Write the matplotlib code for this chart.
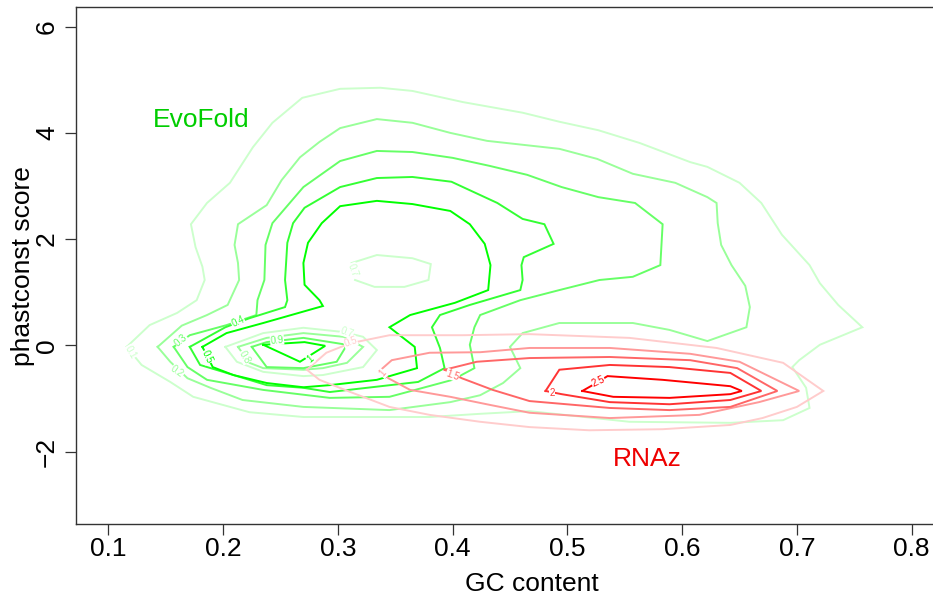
import matplotlib

matplotlib.use("Agg")

import matplotlib.pyplot as plt
from matplotlib import font_manager as fm
import numpy as np


# contour lines, in data units (GC content, phastcons score)
evo_01 = [(0.116, -0.03), (0.136, 0.38), (0.160, 0.61), (0.177, 0.85), (0.184, 1.23),
          (0.182, 1.48), (0.176, 1.85), (0.172, 2.28), (0.186, 2.68), (0.206, 3.06),
          (0.226, 3.73), (0.243, 4.19), (0.269, 4.66), (0.302, 4.83), (0.337, 4.85),
          (0.365, 4.79), (0.409, 4.58), (0.461, 4.38), (0.493, 4.21), (0.527, 4.05),
          (0.563, 3.81), (0.607, 3.45), (0.622, 3.36), (0.650, 3.06), (0.669, 2.68),
          (0.687, 2.08), (0.711, 1.51), (0.720, 1.17), (0.736, 0.76), (0.757, 0.34),
          (0.720, 0.01), (0.702, -0.28), (0.696, -0.41), (0.708, -0.80), (0.711, -1.18),
          (0.688, -1.41), (0.642, -1.46), (0.554, -1.44), (0.467, -1.24), (0.424, -1.29),
          (0.380, -1.35), (0.345, -1.35), (0.270, -1.35), (0.223, -1.26), (0.174, -0.97),
          (0.154, -0.69), (0.129, -0.37), (0.116, -0.03)]
evo_02 = [(0.143, -0.03), (0.164, 0.37), (0.186, 0.57), (0.204, 0.76), (0.214, 1.23),
          (0.213, 1.55), (0.210, 1.89), (0.213, 2.28), (0.238, 2.64), (0.251, 3.11),
          (0.267, 3.54), (0.284, 3.83), (0.302, 4.09), (0.334, 4.26), (0.365, 4.19),
          (0.398, 4.00), (0.430, 3.85), (0.493, 3.70), (0.526, 3.51), (0.557, 3.23),
          (0.594, 3.06), (0.622, 2.79), (0.630, 2.68), (0.631, 2.30), (0.634, 1.89),
          (0.643, 1.51), (0.655, 1.12), (0.659, 0.72), (0.656, 0.34), (0.622, 0.08),
          (0.589, 0.29), (0.557, 0.42), (0.520, 0.42), (0.493, 0.42), (0.461, 0.23),
          (0.450, -0.03), (0.459, -0.43), (0.444, -0.71), (0.424, -0.94), (0.398, -1.07),
          (0.345, -1.22), (0.270, -1.16), (0.217, -1.03), (0.189, -0.80), (0.169, -0.62),
          (0.154, -0.31), (0.143, -0.03)]
evo_03 = [(0.157, -0.03), (0.171, 0.19), (0.203, 0.38), (0.229, 0.57), (0.230, 0.85),
          (0.236, 1.23), (0.237, 1.89), (0.243, 2.30), (0.270, 2.98), (0.302, 3.47),
          (0.334, 3.66), (0.365, 3.64), (0.400, 3.53), (0.432, 3.38), (0.465, 3.21),
          (0.495, 2.98), (0.527, 2.79), (0.559, 2.68), (0.583, 2.28), (0.581, 1.51),
          (0.557, 1.29), (0.528, 1.23), (0.493, 1.04), (0.459, 0.85), (0.424, 0.57),
          (0.419, 0.34), (0.415, 0.01), (0.419, -0.43), (0.400, -0.65), (0.345, -0.97),
          (0.293, -0.99), (0.235, -0.84), (0.186, -0.65), (0.169, -0.41), (0.157, -0.03)]
evo_04 = [(0.171, -0.03), (0.202, 0.34), (0.223, 0.51), (0.254, 0.72), (0.256, 0.85),
          (0.254, 1.23), (0.256, 1.93), (0.261, 2.30), (0.271, 2.59), (0.302, 2.98),
          (0.334, 3.15), (0.365, 3.17), (0.399, 3.08), (0.439, 2.68), (0.461, 2.38),
          (0.480, 2.28), (0.488, 1.91), (0.462, 1.66), (0.460, 1.51), (0.461, 1.23),
          (0.459, 1.04), (0.415, 0.76), (0.389, 0.57), (0.382, 0.34), (0.389, -0.05),
          (0.393, -0.43), (0.370, -0.69), (0.293, -0.88), (0.270, -0.80), (0.238, -0.75),
          (0.203, -0.52), (0.180, -0.37), (0.171, -0.03)]
evo_05 = [(0.182, -0.03), (0.203, 0.23), (0.235, 0.42), (0.287, 0.74), (0.284, 0.85),
          (0.271, 1.14), (0.270, 1.55), (0.274, 1.93), (0.286, 2.30), (0.302, 2.62),
          (0.334, 2.72), (0.365, 2.66), (0.398, 2.53), (0.415, 2.28), (0.428, 1.91),
          (0.433, 1.51), (0.431, 1.04), (0.402, 0.80), (0.363, 0.57), (0.345, 0.34),
          (0.367, -0.03), (0.369, -0.43), (0.334, -0.65), (0.293, -0.75), (0.270, -0.79),
          (0.238, -0.71), (0.209, -0.56), (0.191, -0.41), (0.182, -0.03)]
evo_07_top = [(0.312, 1.55), (0.334, 1.70), (0.365, 1.64), (0.381, 1.53), (0.379, 1.23),
              (0.358, 1.10), (0.332, 1.10), (0.315, 1.23)]
evo_07 = [(0.202, -0.03), (0.235, 0.23), (0.270, 0.33), (0.305, 0.25), (0.322, 0.16),
          (0.334, -0.09), (0.322, -0.41), (0.287, -0.56), (0.270, -0.58), (0.235, -0.50),
          (0.212, -0.31), (0.202, -0.03)]
evo_08 = [(0.213, -0.03), (0.238, 0.14), (0.270, 0.23), (0.305, 0.16), (0.322, -0.03),
          (0.308, -0.33), (0.287, -0.43), (0.270, -0.46), (0.235, -0.43), (0.223, -0.33),
          (0.213, -0.03)]
evo_09 = [(0.225, -0.03), (0.238, 0.06), (0.270, 0.14), (0.308, 0.01), (0.299, -0.31),
          (0.270, -0.43), (0.238, -0.41), (0.225, -0.03)]
evo_10 = [(0.235, 0.01), (0.271, 0.06), (0.289, -0.01), (0.267, -0.31), (0.235, 0.01)]

rnaz_05 = [(0.273, -0.46), (0.290, -0.14), (0.311, 0.04), (0.345, 0.19), (0.409, 0.19),
           (0.467, 0.21), (0.554, 0.14), (0.630, -0.05), (0.688, -0.33), (0.723, -0.86),
           (0.700, -1.16), (0.670, -1.37), (0.642, -1.50), (0.583, -1.58), (0.519, -1.60),
           (0.467, -1.54), (0.424, -1.44), (0.380, -1.31), (0.345, -1.16), (0.311, -0.88),
           (0.284, -0.65), (0.273, -0.46)]
rnaz_10 = [(0.337, -0.47), (0.347, -0.28), (0.380, -0.14), (0.424, -0.13), (0.467, -0.05),
           (0.537, -0.05), (0.607, -0.16), (0.650, -0.31), (0.702, -0.86), (0.667, -1.07),
           (0.615, -1.31), (0.537, -1.37), (0.467, -1.27), (0.432, -1.12), (0.398, -0.97),
           (0.363, -0.84), (0.344, -0.62), (0.337, -0.47)]
rnaz_15 = [(0.393, -0.46), (0.421, -0.31), (0.467, -0.24), (0.537, -0.22), (0.607, -0.28),
           (0.648, -0.43), (0.683, -0.86), (0.642, -1.16), (0.589, -1.22), (0.537, -1.18),
           (0.467, -1.05), (0.435, -0.84), (0.408, -0.62), (0.393, -0.46)]
rnaz_20 = [(0.481, -0.86), (0.493, -0.46), (0.537, -0.37), (0.589, -0.41), (0.642, -0.52),
           (0.669, -0.86), (0.642, -1.03), (0.589, -1.11), (0.537, -1.07), (0.495, -0.92),
           (0.481, -0.86)]
rnaz_25 = [(0.513, -0.86), (0.522, -0.75), (0.535, -0.58), (0.583, -0.65), (0.642, -0.77),
           (0.652, -0.86), (0.642, -0.92), (0.589, -0.99), (0.540, -0.97), (0.513, -0.86)]

evo_lines = [evo_01, evo_02, evo_03, evo_04, evo_05, evo_07_top, evo_07, evo_08, evo_09, evo_10]
evo_cols = ["#ccffcc", "#99ff99", "#66ff66", "#33ff33", "#00ff00",
            "#ccffcc", "#ccffcc", "#99ff99", "#66ff66", "#00ff00"]
rnaz_lines = [rnaz_05, rnaz_10, rnaz_15, rnaz_20, rnaz_25]
rnaz_cols = ["#ffcccc", "#ff9999", "#ff6666", "#ff3333", "#ff0000"]

# contour labels: text, x, y, angle
evo_labels = [("0.1", 0.119, -0.13, -60), ("0.2", 0.160, -0.50, -35), ("0.3", 0.163, 0.10, 40),
              ("0.4", 0.213, 0.44, 25), ("0.5", 0.186, -0.22, -65), ("0.7", 0.313, 1.42, -70),
              ("0.7", 0.308, 0.25, -20), ("0.8", 0.219, -0.22, -60), ("0.9", 0.247, 0.10, 5),
              ("1", 0.276, -0.26, 40)]
rnaz_labels = [("0.5", 0.311, 0.06, 20), ("1", 0.339, -0.53, 50), ("1.5", 0.400, -0.56, -20),
               ("2", 0.487, -0.90, 0), ("2.5", 0.527, -0.69, 25)]

try:
    fm.findfont(fm.FontProperties(family="Liberation Sans Narrow"), fallback_to_default=False)
    FAM, FS = "Liberation Sans Narrow", 23
except ValueError:
    FAM, FS = "Liberation Sans", 19
plt.rcParams["font.family"] = [FAM, "Liberation Sans", "DejaVu Sans"]

fig = plt.figure(figsize=(9.33, 5.99), dpi=100)
ax = fig.add_axes([75.7 / 933, 75 / 599, (988 - 75.7) / 933, (524 - 7.3) / 599])

for line, col in zip(evo_lines, evo_cols):
    pts = np.array(line)
    ax.plot(pts[:, 0], pts[:, 1], color=col, lw=1.4, solid_joinstyle="miter")
for line, col in zip(rnaz_lines, rnaz_cols):
    pts = np.array(line)
    ax.plot(pts[:, 0], pts[:, 1], color=col, lw=1.4, solid_joinstyle="miter")

for labels, cols in [(evo_labels, evo_cols), (rnaz_labels, rnaz_cols)]:
    for (txt, x, y, ang), col in zip(labels, cols):
        ax.text(x, y, txt, color=col, fontsize=7, rotation=ang, ha="center", va="center",
                family="Liberation Sans", rotation_mode="anchor",
                bbox=dict(fc="white", ec="none", pad=0.2))

ax.text(0.139, 4.25, "EvoFold", color="#00cd00", fontsize=FS, ha="left", va="center")
ax.text(0.540, -2.15, "RNAz", color="#ee0000", fontsize=FS, ha="left", va="center")

ax.set_xlim(0.0716, 0.8665)
ax.set_ylim(-3.365, 6.365)
ax.set_xticks([0.1, 0.2, 0.3, 0.4, 0.5, 0.6, 0.7, 0.8])
ax.set_yticks([-2, 0, 2, 4, 6])
ax.set_xticklabels(["0.1", "0.2", "0.3", "0.4", "0.5", "0.6", "0.7", "0.8"])
ax.set_yticklabels(["\u22122", "0", "2", "4", "6"], rotation=90, va="center")
ax.tick_params(length=8, width=0.9, color="#333333", labelsize=FS)
ax.tick_params(axis="x", pad=1)
ax.tick_params(axis="y", pad=4)
ax.set_xlabel("GC content", fontsize=FS, labelpad=8)
ax.set_ylabel("phastconst score", fontsize=FS, labelpad=0)
for s in ax.spines.values():
    s.set_linewidth(1.0)
    s.set_color("#333333")
ax.grid(False)

fig.savefig("out.png", dpi=100)
